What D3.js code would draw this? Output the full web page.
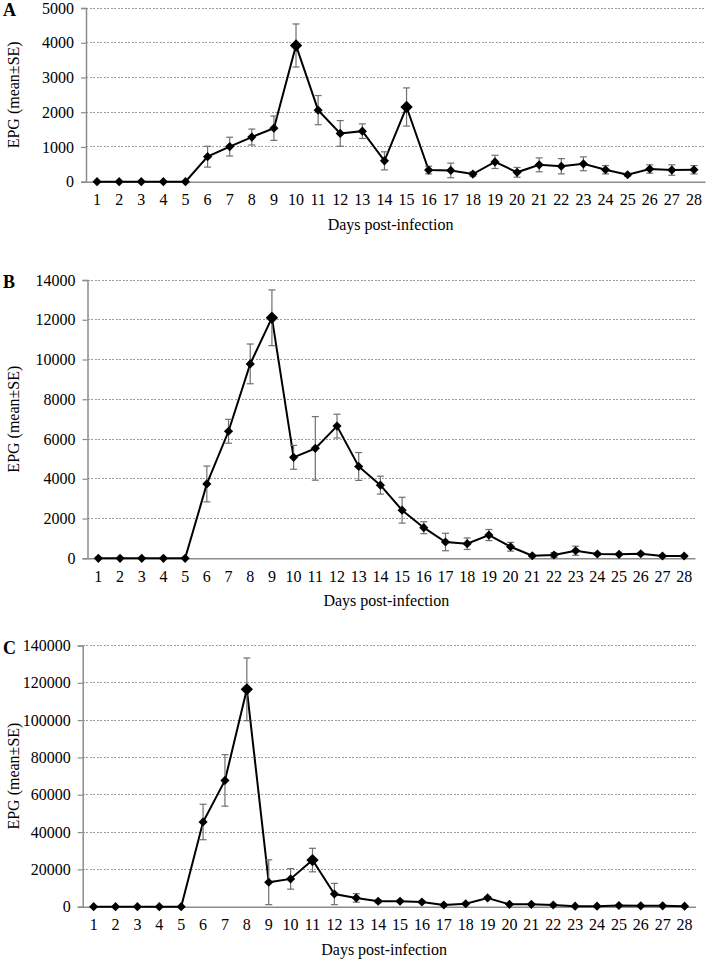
<!DOCTYPE html>
<html>
<head>
<meta charset="utf-8">
<script src="https://cdn.jsdelivr.net/npm/d3@7"></script>
<style>
  html, body { margin: 0; padding: 0; background: #fff; }
  svg, svg text { font-family: 'Liberation Serif', 'Times New Roman', serif !important; }
</style>
</head>
<body>
<svg id="chart" width="707" height="960"></svg>
<script>
// ---- Data ----
const days = [1,2,3,4,5,6,7,8,9,10,11,12,13,14,15,16,17,18,19,20,21,22,23,24,25,26,27,28];

const meanA = [0,0,0,0,0,720,1010,1285,1540,3920,2060,1390,1455,600,2150,335,325,220,570,270,485,445,515,345,200,365,335,345];
const seA   = [0,0,0,0,0,300,270,230,350,620,420,370,210,260,550,110,210,60,190,140,200,220,200,120,40,120,150,120];
const ticksA = [0,1000,2000,3000,4000,5000];

const meanB = [0,0,0,0,0,3740,6390,9780,12100,5080,5530,6650,4620,3680,2420,1540,820,735,1170,580,130,165,380,215,200,230,115,115];
const seB   = [0,0,0,0,0,900,600,1000,1400,600,1600,600,700,450,650,300,440,290,280,220,60,120,230,60,50,60,40,40];
const ticksB = [0,2000,4000,6000,8000,10000,12000,14000];

const meanC = [0,0,0,0,0,45400,67700,116500,13100,14900,25000,6800,4700,2900,2900,2500,900,1600,4700,1250,1250,900,300,300,650,450,450,300];
const seC   = [0,0,0,0,0,9500,13800,16800,12000,5500,6300,5700,2300,800,600,500,300,400,700,300,200,200,100,100,100,100,100,100];
const ticksC = [0,20000,40000,60000,80000,100000,120000,140000];

const panelLabels = ["A","B","C"];
const xTitle = "Days post-infection";
const yTitle = "EPG (mean\u00B1SE)";

// ---- Layout (styles/positions) ----
const panels = [
  { label: panelLabels[0], mean: meanA, se: seA, ticks: ticksA, left: 86,   right: 705, top: 8,     bottom: 181.7, big: [10,15] },
  { label: panelLabels[1], mean: meanB, se: seB, ticks: ticksB, left: 87.5, right: 695, top: 280,   bottom: 558.3, big: [9] },
  { label: panelLabels[2], mean: meanC, se: seC, ticks: ticksC, left: 82.7, right: 695.5, top: 645.5, bottom: 906.7, big: [8,11] }
];

const svg = d3.select("#chart");
const gridColor = "#9a9a9a";
const axisColor = "#8c8c8c";
const serif = "'Liberation Serif', 'Times New Roman', serif";

panels.forEach(p => {
  const g = svg.append("g");
  const x = d3.scaleBand().domain(days).range([p.left, p.right]).paddingInner(0).paddingOuter(0);
  const cx = d => x(d) + x.bandwidth() / 2;
  const y = d3.scaleLinear().domain([0, d3.max(p.ticks)]).range([p.bottom, p.top]);

  // gridlines
  g.append("g").selectAll("line").data(p.ticks.filter(t => t > 0)).join("line")
    .attr("x1", p.left).attr("x2", p.right)
    .attr("y1", d => y(d)).attr("y2", d => y(d))
    .attr("stroke", gridColor).attr("stroke-width", 1).attr("stroke-dasharray", "2,1.5")
    .attr("shape-rendering", "crispEdges");

  // y axis
  const ya = g.append("g").attr("transform", `translate(${p.left},0)`)
    .call(d3.axisLeft(y).tickValues(p.ticks).tickSize(5).tickPadding(7).tickFormat(d3.format("d")));
  ya.attr("font-family", null).attr("font-size", null);
  ya.select(".domain").attr("stroke", axisColor).attr("stroke-width", 1.5);
  ya.selectAll(".tick line").attr("stroke", axisColor).attr("stroke-width", 1.2);
  ya.selectAll("text").style("font-size", "16px").style("font-family", serif).attr("fill", "#000");

  // x axis
  const xa = g.append("g").attr("transform", `translate(0,${p.bottom})`)
    .call(d3.axisBottom(x).tickSize(0).tickPadding(12));
  xa.attr("font-family", null).attr("font-size", null);
  xa.select(".domain").attr("stroke", axisColor).attr("stroke-width", 1.5);
  xa.selectAll("text").style("font-size", "16px").style("font-family", serif).attr("fill", "#000");

  // titles
  g.append("text").attr("x", (p.left + p.right) / 2 - 5).attr("y", p.bottom + 48)
    .attr("text-anchor", "middle").style("font-size", "16px").style("font-family", serif).text(xTitle);
  g.append("text")
    .attr("transform", `translate(19,${(p.top + p.bottom) / 2}) rotate(-90)`)
    .attr("text-anchor", "middle").style("font-size", "16px").style("font-family", serif).text(yTitle);
  g.append("text").attr("x", 3).attr("y", p.top + 8)
    .style("font-size", "18px").style("font-family", serif).attr("font-weight", "bold").text(p.label);

  const pts = days.map((d, i) => ({ d, m: p.mean[i], s: p.se[i] }));

  // line
  g.append("path").datum(pts)
    .attr("fill", "none").attr("stroke", "#000").attr("stroke-width", 2)
    .attr("d", d3.line().x(v => cx(v.d)).y(v => y(v.m)));

  // error bars
  const eb = g.append("g").selectAll("g").data(pts.filter(v => v.s > 0)).join("g");
  eb.append("line")
    .attr("x1", v => cx(v.d)).attr("x2", v => cx(v.d))
    .attr("y1", v => y(v.m + v.s)).attr("y2", v => y(Math.max(0, v.m - v.s)))
    .attr("stroke", "#707070").attr("stroke-width", 1.2);
  eb.append("line")
    .attr("x1", v => cx(v.d) - 3.5).attr("x2", v => cx(v.d) + 3.5)
    .attr("y1", v => y(v.m + v.s)).attr("y2", v => y(v.m + v.s))
    .attr("stroke", "#707070").attr("stroke-width", 1.2);
  eb.append("line")
    .attr("x1", v => cx(v.d) - 3.5).attr("x2", v => cx(v.d) + 3.5)
    .attr("y1", v => y(Math.max(0, v.m - v.s))).attr("y2", v => y(Math.max(0, v.m - v.s)))
    .attr("stroke", "#707070").attr("stroke-width", 1.2);

  // markers (diamonds)
  g.append("g").selectAll("path").data(pts).join("path")
    .attr("transform", v => `translate(${cx(v.d)},${y(v.m)}) rotate(45)`)
    .attr("d", v => d3.symbol(d3.symbolSquare, p.big.includes(v.d) ? 76 : 42)())
    .attr("fill", "#000");
});
</script>
</body>
</html>
